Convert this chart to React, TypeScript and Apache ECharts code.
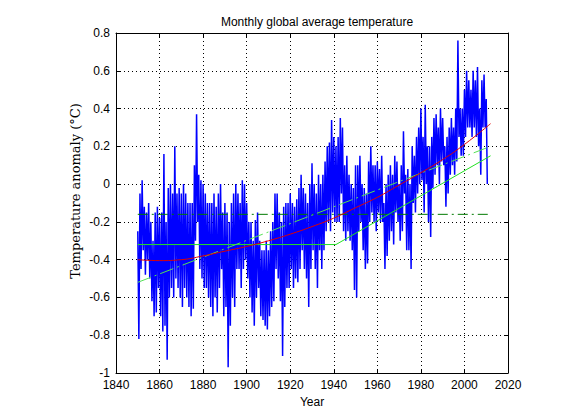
import React, { useEffect, useRef } from "react";
import * as echarts from "echarts";

// Blue series: two samples per year (upper, lower excursion), starting 1850.0
const sampleStartYear = 1850;
const sampleStep = 0.5;
const anomalySamples: number[] = [
  -0.25, -0.82, -0.05, -0.45, 0.02, -0.35, -0.12, -0.48, -0.15, -0.4,
  -0.1, -0.5, -0.2, -0.62, -0.3, -0.7, -0.15, -0.68, -0.12, -0.55,
  -0.18, -0.7, -0.15, -0.78, 0.16, -0.75, -0.2, -0.93, -0.02, -0.6,
  0.0, -0.55, -0.05, -0.6, 0.2, -0.5, -0.05, -0.55, -0.02, -0.6,
  -0.05, -0.65, 0.0, -0.55, -0.05, -0.6, -0.1, -0.65, -0.1, -0.7,
  -0.1, -0.66, 0.1, -0.3, 0.37, -0.2, 0.05, -0.45, 0.02, -0.5,
  0.0, -0.55, -0.05, -0.55, -0.1, -0.6, -0.1, -0.65, -0.1, -0.7,
  -0.05, -0.6, -0.12, -0.68, -0.05, -0.55, 0.0, -0.45, -0.15, -0.7,
  -0.1, -0.65, -0.15, -0.97, -0.2, -0.75, -0.1, -0.6, -0.05, -0.65,
  0.0, -0.45, -0.05, -0.45, -0.1, -0.55, 0.02, -0.45, 0.0, -0.4,
  -0.1, -0.5, -0.2, -0.6, -0.2, -0.68, -0.3, -0.75, -0.19, -0.6,
  -0.15, -0.55, -0.3, -0.7, -0.35, -0.72, -0.35, -0.75, -0.3, -0.77,
  -0.35, -0.7, -0.25, -0.65, -0.2, -0.62, -0.05, -0.45, -0.05, -0.5,
  -0.15, -0.62, -0.2, -0.91, -0.12, -0.65, -0.1, -0.55, -0.1, -0.55,
  -0.05, -0.45, -0.1, -0.55, -0.12, -0.5, -0.08, -0.52, -0.02, -0.45,
  0.05, -0.35, -0.02, -0.45, -0.05, -0.5, -0.1, -0.65, 0.0, -0.45,
  0.11, -0.35, 0.0, -0.45, -0.05, -0.55, 0.05, -0.35, 0.0, -0.45,
  0.05, -0.35, 0.12, -0.25, 0.2, -0.2, 0.22, -0.25, 0.34, -0.15,
  0.25, -0.2, 0.2, -0.2, 0.25, -0.2, 0.35, -0.05, 0.3, -0.25,
  0.1, -0.3, 0.15, -0.25, 0.05, -0.3, 0.0, -0.35, -0.02, -0.56,
  0.1, -0.6, 0.1, -0.25, 0.15, -0.2, 0.0, -0.35, -0.02, -0.45,
  -0.05, -0.42, 0.12, -0.2, 0.2, -0.15, 0.1, -0.2, 0.1, -0.25,
  0.12, -0.15, 0.08, -0.2, 0.15, -0.2, -0.1, -0.45, 0.0, -0.38,
  0.05, -0.3, 0.1, -0.25, 0.05, -0.32, 0.15, -0.15, 0.12, -0.2,
  0.0, -0.3, 0.1, -0.25, 0.28, -0.05, 0.05, -0.35, 0.08, -0.35,
  0.0, -0.45, 0.2, -0.1, 0.15, -0.15, 0.25, -0.05, 0.3, 0.0,
  0.4, 0.02, 0.25, -0.15, 0.42, 0.0, 0.2, -0.2, 0.2, -0.28,
  0.25, -0.02, 0.35, 0.05, 0.37, 0.1, 0.3, 0.0, 0.4, 0.12,
  0.35, 0.1, 0.2, -0.12, 0.25, -0.05, 0.3, 0.05, 0.35, 0.1,
  0.3, 0.05, 0.4, 0.12, 0.76, 0.25, 0.4, 0.15, 0.4, 0.15,
  0.5, 0.25, 0.6, 0.3, 0.55, 0.3, 0.5, 0.25, 0.6, 0.3,
  0.55, 0.25, 0.62, 0.2, 0.4, 0.05, 0.55, 0.3, 0.58, 0.3,
  0.45, 0.0,
];

// Red smooth fit
const fitYears = [1850, 1860, 1870, 1880, 1890, 1900, 1910, 1920, 1930, 1940, 1950, 1960, 1970, 1980, 1990, 2000, 2012];
const fitValues = [-0.4, -0.405, -0.4, -0.38, -0.355, -0.33, -0.3, -0.265, -0.225, -0.18, -0.125, -0.07, -0.005, 0.06, 0.13, 0.21, 0.32];

// Green piecewise (flat then rising)
const pieceYears = [1850, 1941, 2012];
const pieceValues = [-0.32, -0.32, 0.15];

// Light green linear trend
const trendYears = [1850, 2012];
const trendValues = [-0.52, 0.2];

// Dark green mean level
const meanYears = [1850, 2012];
const meanValues = [-0.16, -0.16];

const xTicks = { min: 1840, max: 2020, interval: 20 };
const yTicks = { min: -1, max: 0.8, interval: 0.2 };

const zip = (xs: number[], ys: number[]) => xs.map((x, i) => [x, ys[i]]);

export default function App() {
  const ref = useRef<HTMLDivElement>(null);
  useEffect(() => {
    if (!ref.current) return;
    const chart = echarts.init(ref.current, null, { renderer: "svg" });
    const blueData = anomalySamples.map((v, i) => [sampleStartYear + i * sampleStep, v]);
    const font = "'Liberation Sans', Arial, sans-serif";
    const tickStyle = { show: true, inside: true, length: 4, lineStyle: { color: "#000", width: 1 } };
    const lineStyleAxis = { show: true, onZero: false, lineStyle: { color: "#000", width: 1 } };
    chart.setOption({
      animation: false,
      backgroundColor: "#fff",
      title: {
        text: "Monthly global average temperature",
        left: 312,
        textAlign: "center",
        top: 11,
        textStyle: { fontFamily: font, fontSize: 12, fontWeight: "normal", color: "#000" },
      },
      graphic: [
        {
          type: "text",
          x: 75,
          y: 191,
          rotation: Math.PI / 2,
          style: {
            text: "Temperature anomaly (°C)",
            textAlign: "center",
            textVerticalAlign: "middle",
            fontFamily: "'DejaVu Serif', 'Liberation Serif', serif",
            fontSize: 13,
            fill: "#000",
          },
        },
      ],
      grid: { left: 116, top: 33, right: 53, bottom: 47, containLabel: false },
      xAxis: [
        {
          type: "value",
          min: xTicks.min,
          max: xTicks.max,
          interval: xTicks.interval,
          position: "bottom",
          axisLine: lineStyleAxis,
          axisTick: tickStyle,
          axisLabel: { color: "#000", fontFamily: font, fontSize: 12, margin: 6, formatter: (v: number) => String(v) },
          splitLine: { show: true, lineStyle: { color: "#000", type: [1, 3], width: 1 } },
          name: "Year",
          nameLocation: "middle",
          nameGap: 23,
          nameTextStyle: { color: "#000", fontFamily: font, fontSize: 12 },
        },
        {
          type: "value",
          min: xTicks.min,
          max: xTicks.max,
          interval: xTicks.interval,
          position: "top",
          axisLine: lineStyleAxis,
          axisTick: tickStyle,
          axisLabel: { show: false },
          splitLine: { show: false },
        },
      ],
      yAxis: [
        {
          type: "value",
          min: yTicks.min,
          max: yTicks.max,
          interval: yTicks.interval,
          position: "left",
          axisLine: lineStyleAxis,
          axisTick: tickStyle,
          axisLabel: {
            color: "#000",
            fontFamily: font,
            fontSize: 12,
            margin: 6,
            formatter: (v: number) => String(Math.round(v * 10) / 10),
          },
          splitLine: { show: true, lineStyle: { color: "#000", type: [1, 3], width: 1 } },
        },
        {
          type: "value",
          min: yTicks.min,
          max: yTicks.max,
          interval: yTicks.interval,
          position: "right",
          axisLine: lineStyleAxis,
          axisTick: tickStyle,
          axisLabel: { show: false },
          splitLine: { show: false },
        },
      ],
      series: [
        {
          type: "line",
          data: blueData,
          showSymbol: false,
          lineStyle: { color: "#0000ff", width: 1.5 },
          z: 2,
        },
        {
          type: "line",
          data: zip(meanYears, meanValues),
          showSymbol: false,
          lineStyle: { color: "#007a00", width: 1, type: [10, 4, 2, 4] },
          z: 3,
        },
        {
          type: "line",
          data: zip(pieceYears, pieceValues),
          showSymbol: false,
          lineStyle: { color: "#22e022", width: 1 },
          z: 3,
        },
        {
          type: "line",
          data: zip(trendYears, trendValues),
          showSymbol: false,
          lineStyle: { color: "#55e055", width: 1, type: [14, 4, 2, 4] },
          z: 3,
        },
        {
          type: "line",
          data: zip(fitYears, fitValues),
          showSymbol: false,
          smooth: true,
          lineStyle: { color: "#e00000", width: 1 },
          z: 4,
        },
      ],
    });
    return () => chart.dispose();
  }, []);
  return <div ref={ref} style={{ width: 561, height: 420, position: "absolute", left: 0, top: 0 }} />;
}
